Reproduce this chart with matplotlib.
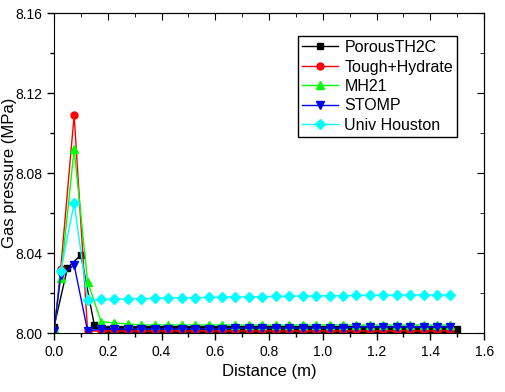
import numpy as np
import matplotlib.pyplot as plt
from matplotlib.ticker import MultipleLocator

plt.rcParams['font.family'] = ['Liberation Sans', 'DejaVu Sans']

# PorousTH2C: every 0.05 m
x_black = [0.0, 0.05, 0.10, 0.15] + [round(0.20 + 0.05 * i, 3) for i in range(27)]
y_black = [8.003, 8.0325, 8.039, 8.004] + [8.002] * 27

# other codes: cell centres
x_tail = [round(0.175 + 0.05 * i, 3) for i in range(27)]

x_red = [0.0, 0.025, 0.075, 0.125] + x_tail
y_red = [8.000, 8.032, 8.109, 8.001] + [8.001] * 27

x_green = [0.0, 0.025, 0.075, 0.125] + x_tail
y_green = [8.002, 8.0275, 8.092, 8.0257, 8.0057, 8.005, 8.0045] + [8.004] * 24

x_blue = [0.0, 0.025, 0.075, 0.125] + x_tail
y_blue = [8.001, 8.029, 8.034, 8.001] + [8.002] * 10 + [8.0025] * 9 + [8.003] * 8

x_cyan = [0.025, 0.075, 0.125] + x_tail
y_cyan = [8.031, 8.065, 8.0165, 8.0168, 8.017, 8.017, 8.0172, 8.0173, 8.0175,
          8.0176, 8.0177, 8.0178, 8.018, 8.018, 8.0181, 8.0182, 8.0183, 8.0184,
          8.0185, 8.0185, 8.0186, 8.0187, 8.0188, 8.0188, 8.0189, 8.019, 8.019,
          8.019, 8.019, 8.019]

fig = plt.figure(figsize=(5.06, 3.92), dpi=100)
ax = fig.add_axes([0.1067, 0.1505, 0.85, 0.8163])

ax.plot(x_black, y_black, '-s', color='black', lw=1, ms=5, label='PorousTH2C')
ax.plot(x_red, y_red, '-o', color='red', lw=1, ms=5, label='Tough+Hydrate')
ax.plot(x_green, y_green, '-^', color='#00ff00', lw=1, ms=6, label='MH21')
ax.plot(x_blue, y_blue, '-v', color='blue', lw=1, ms=6, label='STOMP')
ax.plot(x_cyan, y_cyan, '-D', color='cyan', lw=1, ms=5, label='Univ Houston')

ax.set_xlim(0, 1.6)
ax.set_ylim(8.0, 8.16)
ax.xaxis.set_major_locator(MultipleLocator(0.2))
ax.xaxis.set_minor_locator(MultipleLocator(0.1))
ax.yaxis.set_major_locator(MultipleLocator(0.04))
ax.yaxis.set_minor_locator(MultipleLocator(0.02))
ax.xaxis.set_major_formatter(lambda v, p: f'{v:.1f}')
ax.yaxis.set_major_formatter(lambda v, p: f'{v:.2f}')
ax.tick_params(which='major', direction='out', length=5, width=1, labelsize=10)
ax.tick_params(which='minor', direction='out', length=3, width=1)

top = ax.secondary_xaxis('top')
top.xaxis.set_major_locator(MultipleLocator(0.2))
top.xaxis.set_minor_locator(MultipleLocator(0.1))
top.tick_params(which='major', direction='in', length=5, labeltop=False)
top.tick_params(which='minor', direction='in', length=3)
right = ax.secondary_yaxis('right')
right.yaxis.set_major_locator(MultipleLocator(0.04))
right.yaxis.set_minor_locator(MultipleLocator(0.02))
right.tick_params(which='major', direction='in', length=5, labelright=False)
right.tick_params(which='minor', direction='in', length=3)

ax.set_xlabel('Distance (m)', fontsize=12)
ax.set_ylabel('Gas pressure (MPa)', fontsize=12)
ax.yaxis.set_label_coords(-0.086, 0.5)
ax.xaxis.set_label_coords(0.5, -0.097)

ax.legend(loc='upper right', bbox_to_anchor=(0.937, 0.928), borderaxespad=0,
          fontsize=11.5, fancybox=False, edgecolor='black', framealpha=1,
          handlelength=2.25, handletextpad=0.37, labelspacing=0.28,
          borderpad=0.25)

fig.savefig('out.png', dpi=100)
